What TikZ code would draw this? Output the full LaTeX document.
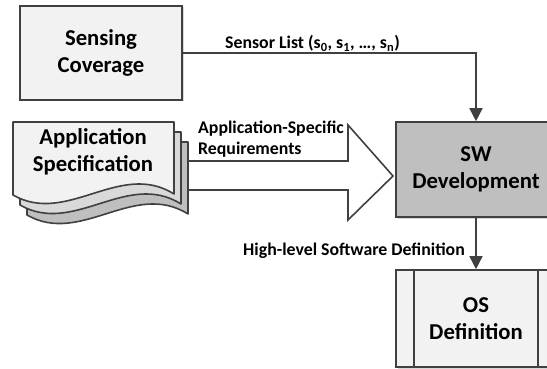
\documentclass[tikz,border=0pt]{standalone}
\usepackage{fontspec}
\setmainfont{Carlito}
\usetikzlibrary{arrows.meta,shadows,calc}
\definecolor{edge}{HTML}{404040}
\definecolor{paper}{HTML}{F2F2F2}
\definecolor{sheetmid}{HTML}{D9D9D9}
\definecolor{sheetback}{HTML}{BFBFBF}
\definecolor{procfill}{HTML}{BFBFBF}

\begin{document}
\begin{tikzpicture}[x=1pt,y=-1pt,
  bigtext/.style={font=\fontsize{22.7}{26.5}\selectfont\bfseries, align=center},
  smalltext/.style={font=\fontsize{17.8}{21}\selectfont\bfseries, inner sep=0pt},
  box/.style={draw=edge, line width=1.6pt, rectangle, inner sep=0pt,
    drop shadow={shadow xshift=1.5pt, shadow yshift=-1.5pt, fill=black!30, opacity=0.5}},
  sheet/.style={draw=edge, line width=1.6pt, line join=round},
  conn/.style={draw=edge, line width=1.6pt, -{Triangle[length=13pt,width=13pt]}},
  fatarrow/.style={draw=edge, fill=white, line width=1.6pt, line join=miter}]
\useasboundingbox (0,0) rectangle (547,369);

% boxes
\node[box, fill=paper, minimum width=162pt, minimum height=94pt, bigtext]
  (sc) at (101,53) {Sensing\\Coverage};
\node[box, fill=procfill, minimum width=160pt, minimum height=95pt, bigtext]
  (sw) at (476,169.5) {SW\\Development};
\node[box, fill=paper, minimum width=160pt, minimum height=97pt, bigtext]
  (os) at (476,318.5) {OS\\Definition};
\draw[edge, line width=1.6pt] ($(os.north west)+(19,0)$) -- ($(os.south west)+(19,0)$);
\draw[edge, line width=1.6pt] ($(os.north east)+(-19,0)$) -- ($(os.south east)+(-19,0)$);

% stacked document sheets, back to front
\foreach \dx/\dy/\col in {14/20/sheetback, 7/10/sheetmid, 0/0/paper}{
  \draw[sheet, fill=\col, shift={(\dx,\dy)}]
    (13,122) -- (174,122) -- (174,194)
    .. controls (120,160) and (67,226) .. (13,195) -- cycle;
}
\node[bigtext] (spec) at (93,152) {Application\\Specification};

% broad arrow carrying the requirements
\coordinate (reqtail) at (189,175.5);
\draw[fatarrow] ($(reqtail)+(0,-14.5)$) -- (348,161) -- (348,125) -- (393,176)
  -- (348,220) -- (348,190) -- ($(reqtail)+(0,14.5)$);

% connectors
\draw[conn] (sc.east) -| (sw.north);
\draw[conn] (sw.south) -- (os.north);

% labels
\node[smalltext, anchor=base] (lsensor) at (312.5,49)
  {Sensor List (s\textsubscript{0}, s\textsubscript{1}, …, s\textsubscript{n})};
\node[smalltext, anchor=base west] (lreq1) at (198,133.5) {Application-Specific};
\node[smalltext, anchor=base west] (lreq2) at (198,154) {Requirements};
\node[smalltext, anchor=base east] (lhigh) at (465,255.6) {High-level Software Definition};
\end{tikzpicture}
\end{document}
